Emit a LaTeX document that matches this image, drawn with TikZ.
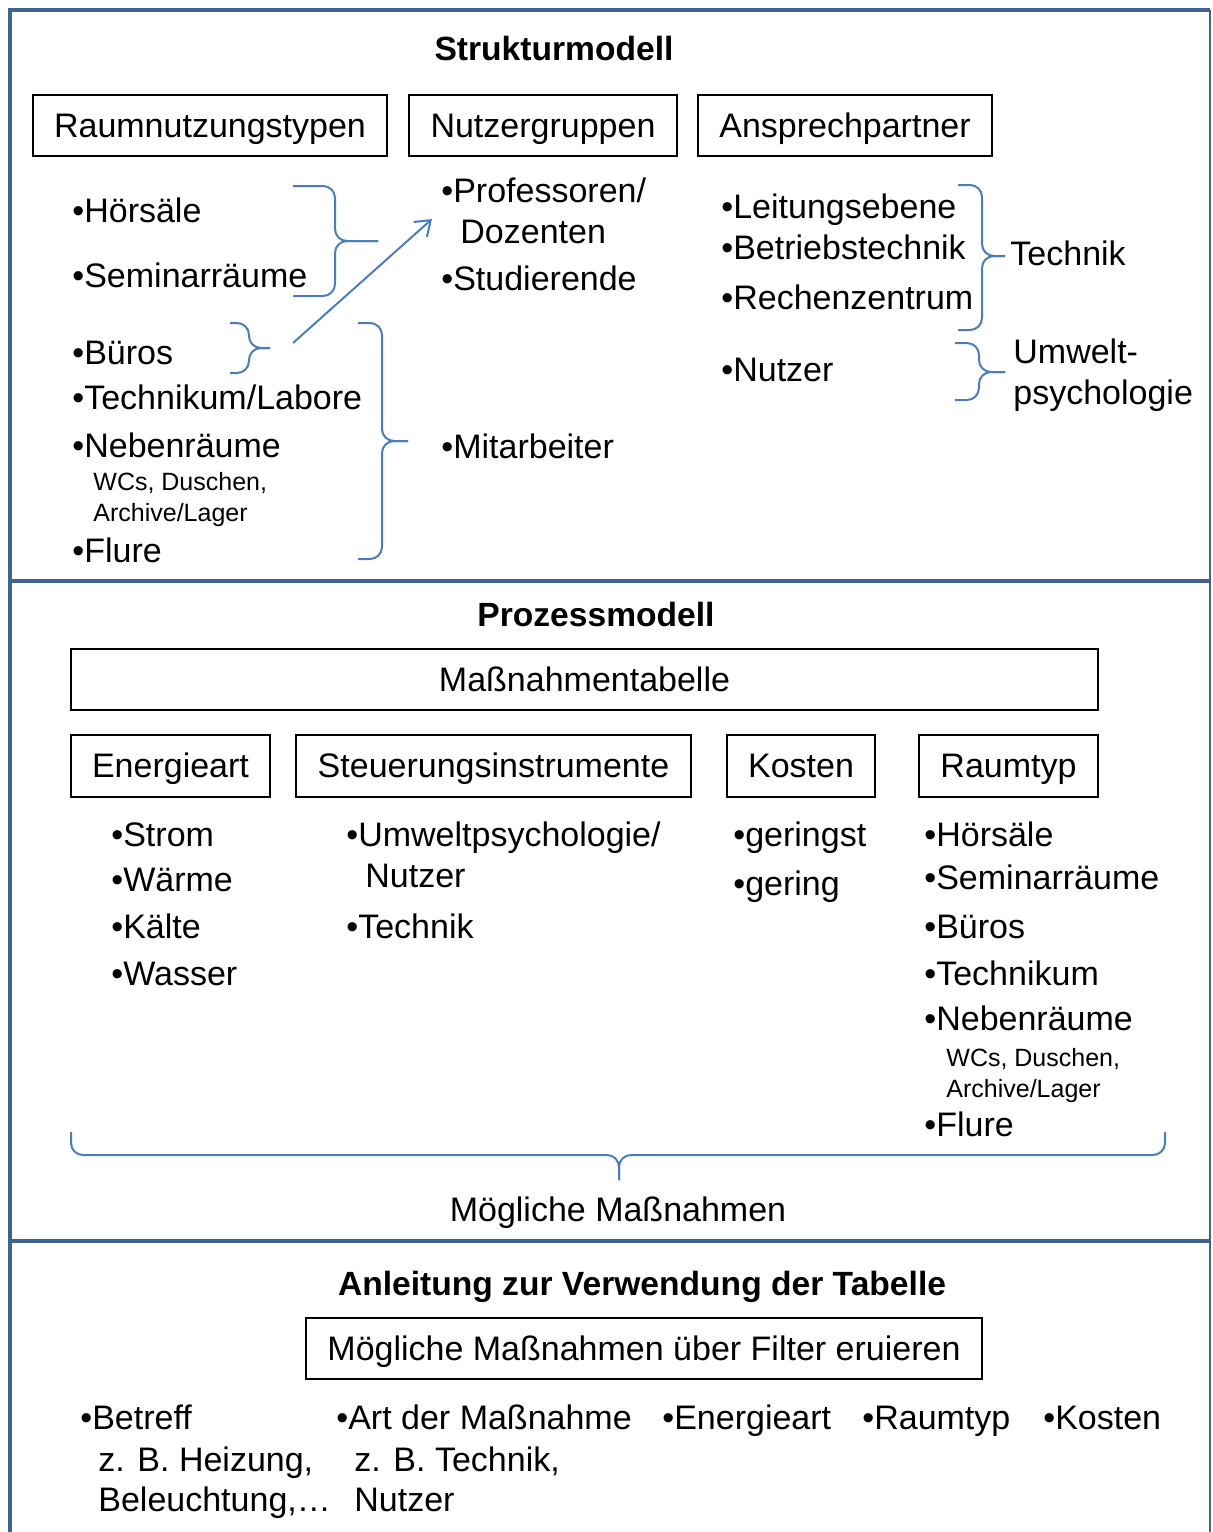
\documentclass[tikz,border=0pt]{standalone}
\usepackage{fontspec}
\setmainfont{Liberation Sans}
\usetikzlibrary{%
    arrows.meta,
    positioning
}
\definecolor{framecol}{HTML}{3F6391}
\definecolor{bracecol}{HTML}{4A7EBB}
\tikzset{
    frameline/.style = {draw=framecol, line width=2pt},
    box/.style = {draw, line width=1pt, minimum height=30.5pt, inner sep=0pt,
        text height=11.8pt, text depth=0pt, font=\fontsize{17}{20}\selectfont},
    heading/.style = {inner sep=0pt, text height=11.8pt, text depth=0pt,
        font=\fontsize{16.8}{20}\selectfont\bfseries},
    item/.style = {anchor=west, inner sep=0pt, text height=11.8pt, text depth=0pt,
        font=\fontsize{17}{20}\selectfont},
    note/.style = {anchor=west, inner sep=0pt, text height=9pt, text depth=0pt,
        font=\fontsize{12.5}{15}\selectfont},
    curly/.style = {draw=bracecol, line width=1pt, rounded corners=6pt},
    headarrow/.style = {-{Straight Barb[length=7pt, width=10pt]}, draw=bracecol, line width=1pt}
}

\begin{document}
\begin{tikzpicture}[x=0.5pt, y=-0.5pt]
    \fill[white] (0,0) rectangle (1212,1532);
    \useasboundingbox (0,0) rectangle (1212,1532);

    % frame and section lines
    \draw[frameline] (10,1540) -- (10,10) -- (1210,10);
    \draw[frameline, line width=1.2pt] (1210,10) -- (1210,1540);
    \foreach \y in {581,1241}
        \draw[frameline] (10,\y) -- (1210,\y);

    % --- Strukturmodell ---
    \node[heading] (struktur) at (554,49) {Strukturmodell};
    \node[box, minimum width=177pt] (raum) at (210,125.5) {Raumnutzungstypen};
    \node[box, minimum width=134pt, right=10pt of raum] (nutzer) {Nutzergruppen};
    \node[box, minimum width=147pt, right=9.5pt of nutzer] (partner) {Ansprechpartner};

    \foreach \Name/\Y/\Text in {%
        hoer/211/Hörsäle,
        sem/276/Seminarräume,
        bue/353/Büros,
        tech/398/{Technikum/Labore},
        neben/446/Nebenräume,
        flur/551/Flure}
            \node[item] (rt-\Name) at (72,\Y) {•\Text};
    \node[note] (rt-wc) at (93,481) {WCs, Duschen,};
    \node[note] (rt-archiv) at (93,512) {Archive/Lager};

    \node[item] (ng-prof) at (441,191) {•Professoren/};
    \node[item] (ng-doz) at (460,232) {Dozenten};
    \node[item] (ng-stud) at (441,279) {•Studierende};
    \node[item] (ng-mit) at (441,447) {•Mitarbeiter};

    \foreach \Name/\Y/\Text in {%
        leit/207/Leitungsebene,
        betr/248/Betriebstechnik,
        rech/298/Rechenzentrum,
        nutz/370/Nutzer}
            \node[item] (ap-\Name) at (721,\Y) {•\Text};
    \node[item] (ap-technik) at (1010,254) {Technik};
    \node[item] (ap-umwelt) at (1013,352) {Umwelt-};
    \node[item] (ap-psych) at (1013,393) {psychologie};

    % braces: arm x / spine x / tip x / top y / middle y / bottom y
    \foreach \xa/\xs/\xt/\ya/\ym/\yb in {%
        293/335/378/186/241/296,
        230/249/270/323/348/373,
        358/382/408/323/441/559,
        958/982/1005/185/256/330,
        955/979/1005/343/372/400}
        {
        \draw[curly] (\xa,\ya) -| (\xs,\ym) -- (\xt,\ym);
        \draw[curly] (\xa,\yb) -| (\xs,\ym) -- (\xt,\ym);
        }
    \coordinate (bue-out) at (293,343);
    \coordinate (prof-in) at (432,219);
    \draw[headarrow] (bue-out) -- (prof-in);

    % --- Prozessmodell ---
    \node[heading] (prozess) at (596,615) {Prozessmodell};
    \node[box, minimum width=513.5pt] (tabelle) at (584.5,679.5) {Maßnahmentabelle};
    \node[box, minimum width=99.5pt, minimum height=31pt] (energie) at (170.5,766) {Energieart};
    \node[box, minimum width=197.5pt, minimum height=31pt, right=12pt of energie] (steuer) {Steuerungsinstrumente};
    \node[box, minimum width=74pt, minimum height=31pt, right=17pt of steuer] (kosten) {Kosten};
    \node[box, minimum width=89.5pt, minimum height=31pt, right=21pt of kosten] (raumtyp) {Raumtyp};

    \foreach \Name/\Y/\Text in {%
        strom/835/Strom,
        waerme/880/Wärme,
        kaelte/927/Kälte,
        wasser/974/Wasser}
            \node[item] (ea-\Name) at (111,\Y) {•\Text};

    \node[item] (si-umwelt) at (346,835) {•Umweltpsychologie/};
    \node[item] (si-nutzer) at (365,876) {Nutzer};
    \node[item] (si-technik) at (346,927) {•Technik};

    \node[item] (ko-geringst) at (733,835) {•geringst};
    \node[item] (ko-gering) at (733,884) {•gering};

    \foreach \Name/\Y/\Text in {%
        hoer/835/Hörsäle,
        sem/878/Seminarräume,
        bue/927/Büros,
        tech/974/Technikum,
        neben/1019/Nebenräume,
        flur/1125/Flure}
            \node[item] (ty-\Name) at (924,\Y) {•\Text};
    \node[note] (ty-wc) at (946,1057) {WCs, Duschen,};
    \node[note] (ty-archiv) at (946,1088) {Archive/Lager};

    \draw[curly] (71,1132) |- (619,1155) -- (619,1180);
    \draw[curly] (1165,1132) |- (619,1155) -- (619,1180);
    \node[heading, font=\fontsize{17}{20}\selectfont] (moeglich) at (618,1210) {Mögliche Maßnahmen};

    % --- Anleitung ---
    \node[heading] (anleitung) at (642,1284) {Anleitung zur Verwendung der Tabelle};
    \node[box, minimum width=338pt] (filter) at (644,1348.5) {Mögliche Maßnahmen über Filter eruieren};

    \node[item] (an-betreff) at (80,1418) {•Betreff};
    \node[item] (an-heizung) at (98,1460) {z. B. Heizung,};
    \node[item] (an-licht) at (98,1500) {Beleuchtung,…};
    \node[item] (an-art) at (336,1418) {•Art der Maßnahme};
    \node[item] (an-technik) at (354,1460) {z. B. Technik,};
    \node[item] (an-nutzer) at (354,1500) {Nutzer};
    \node[item] (an-energie) at (662,1418) {•Energieart};
    \node[item] (an-raumtyp) at (862,1418) {•Raumtyp};
    \node[item] (an-kosten) at (1043,1418) {•Kosten};
\end{tikzpicture}
\end{document}
